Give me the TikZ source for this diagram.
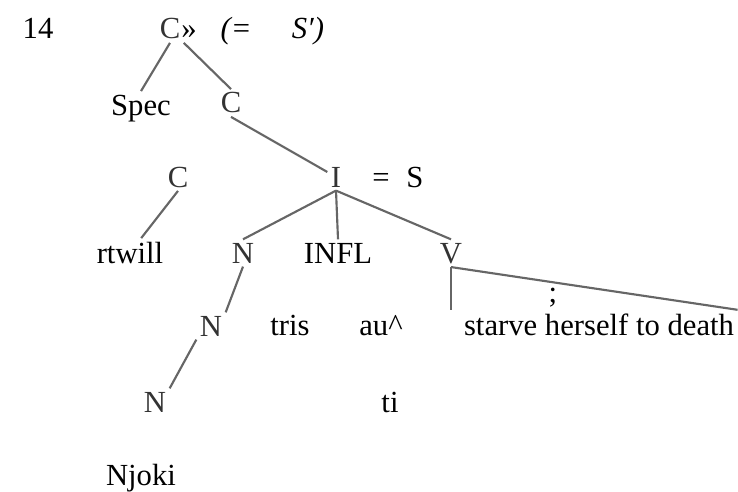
\documentclass[tikz,border=0pt]{standalone}
\usepackage{fontspec}
\setmainfont{Liberation Serif}
\usepackage{tikz}
\usetikzlibrary{positioning}

\begin{document}
\begin{tikzpicture}[
    x=0.75pt, y=-0.75pt,
    every node/.style={anchor=base, inner sep=2.5pt, font=\fontsize{23}{27}\selectfont},
    cat/.style={text=black!80},
    word/.style={text=black},
    branch/.style={draw=black!60, line width=1.6pt},
]
\useasboundingbox (0,0) rectangle (738,492);

% example number and top of tree
\node[word] (num) at (38,39) {14};
\node[cat] (cpp) at (170,39) {C};
\node[word] (guil) at (189,39) {»};
\node[word, font=\fontsize{23}{27}\selectfont\itshape] (eqa) at (236,39) {(=};
\node[word, font=\fontsize{23}{27}\selectfont\itshape] (sbar) at (308,39) {S′)};

% specifier and C-bar
\node[word] (spec) at (141,115) {Spec};
\node[cat] (cbar) at (231,113) {C};

% C and I level
\node[cat] (cleft) at (178,187) {C};
\node[cat] (ip) at (336,187) {I};
\node[word] (eqb) at (381,187) {=};
\node[word] (ss) at (415,187) {S};

% daughters of I
\node[word] (rtwill) at (130,263) {rtwill};
\node[cat] (n1) at (243,263) {N};
\node[word] (infl) at (338,263) {INFL};
\node[cat] (vp) at (451,263) {V};

% lower rows
\node[cat] (n2) at (211,336) {N};
\node[word] (tris) at (290,335) {tris};
\node[word] (au) at (381,335) {au\^{}};
\node[word] (semi) at (553,302) {;};
\node[word] (starve) at (599,335) {starve herself to death};
\node[cat] (n3) at (155,412) {N};
\node[word] (ti) at (390,412) {ti};
\node[word] (njoki) at (141,485) {Njoki};

% branches
\draw[branch] (cpp.south) -- (spec.north);
\draw[branch] (cpp.south east) -- (cbar.north);
\draw[branch] (cbar.south) -- (ip);
\draw[branch] (cleft.south) -- (rtwill);
\draw[branch] (ip.south) -- (n1.north);
\draw[branch] (ip.south) -- (infl.north);
\draw[branch] (ip.south) -- (vp.north);
\draw[branch] (vp.south) -- (vp.south |- starve.north);
\draw[branch] (vp.south) -- (starve.north east);
\draw[branch] (n1.south) -- (n2.north east);
\draw[branch] (n2.south west) -- (n3.north east);

\end{tikzpicture}
\end{document}
